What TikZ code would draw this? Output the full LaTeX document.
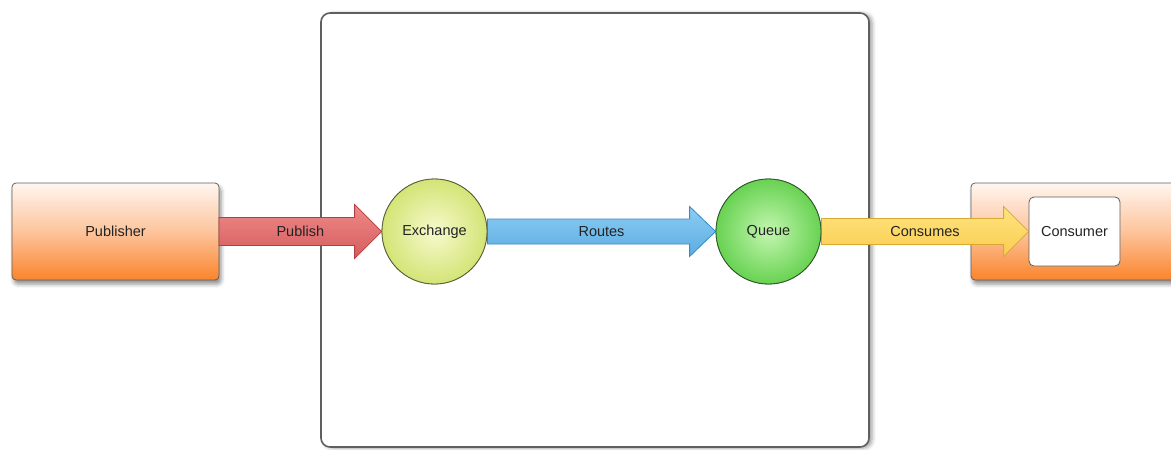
\documentclass[tikz,border=0pt]{standalone}
\usepackage{fontspec}
\setmainfont{Liberation Sans}
\usetikzlibrary{calc,shadows.blur}

\definecolor{txt}{RGB}{35,35,35}
\definecolor{frame}{RGB}{95,95,95}
\definecolor{orgtop}{RGB}{255,246,240}
\definecolor{orgmid}{RGB}{253,196,156}
\definecolor{orgbot}{RGB}{250,132,44}
\definecolor{exin}{RGB}{246,250,205}
\definecolor{exout}{RGB}{212,228,118}
\definecolor{exedge}{RGB}{85,95,55}
\definecolor{qin}{RGB}{196,246,176}
\definecolor{qout}{RGB}{104,210,82}
\definecolor{qedge}{RGB}{45,85,40}
\definecolor{redtop}{RGB}{238,138,138}
\definecolor{redbot}{RGB}{214,92,92}
\definecolor{rededge}{RGB}{178,62,62}
\definecolor{bluetop}{RGB}{140,205,243}
\definecolor{bluebot}{RGB}{92,172,226}
\definecolor{blueedge}{RGB}{58,138,198}
\definecolor{yeltop}{RGB}{255,228,128}
\definecolor{yelbot}{RGB}{250,204,78}
\definecolor{yeledge}{RGB}{214,170,52}

\tikzset{
  lbl/.style={text=txt,font=\fontsize{14.5}{16}\selectfont},
  softshadow/.style={blur shadow={shadow xshift=2pt,shadow yshift=-4pt,
      shadow blur radius=4pt,shadow opacity=45}},
  broker/.style={draw=frame,line width=1.6pt,fill=white,rounded corners=9pt,
      blur shadow={shadow xshift=3pt,shadow yshift=-1pt,shadow blur radius=4pt,shadow opacity=40}},
  appbox/.style={draw=frame,line width=0.8pt,rounded corners=4pt,
      top color=orgtop,bottom color=orgbot,middle color=orgmid,softshadow},
  clientbox/.style={draw=frame,line width=0.8pt,fill=white,rounded corners=5pt,lbl},
  exball/.style={circle,draw=exedge,line width=0.8pt,inner color=exin,outer color=exout,
      minimum size=105pt,lbl},
  qball/.style={circle,draw=qedge,line width=0.8pt,inner color=qin,outer color=qout,
      minimum size=105pt,lbl},
  redarrow/.style={draw=rededge,line width=0.8pt,top color=redtop,bottom color=redbot},
  bluearrow/.style={draw=blueedge,line width=0.8pt,top color=bluetop,bottom color=bluebot},
  yelarrow/.style={draw=yeledge,line width=0.8pt,top color=yeltop,bottom color=yelbot},
}

% fat arrow from #2 to #3: half shaft #4, half head #5, head length #6, label #7
\newcommand\fatarrow[7]{%
  \draw[#1] let \p1=(#2), \p2=(#3) in
    (\x1,\y1+#4) -- (\x2-#6,\y1+#4) -- (\x2-#6,\y1+#5) -- (\x2,\y2)
    -- (\x2-#6,\y1-#5) -- (\x2-#6,\y1-#4) -- (\x1,\y1-#4) -- cycle;
  \path (#2) -- (#3) node[midway,lbl] {#7};
}

\begin{document}
\begin{tikzpicture}[x=1pt,y=-1pt]
  \useasboundingbox (0,0) rectangle (1171,450);
  \clip (0,0) rectangle (1171,450);

  % broker frame
  \draw[broker] (321,13) rectangle (869,447);

  % publisher and consumer application boxes
  \draw[appbox] (12,183) rectangle (219,280);
  \node[lbl] (pub) at (115.5,231.5) {Publisher};
  \coordinate (pubR) at (219,231.5);

  \draw[appbox] (971,183) rectangle (1185,280);
  \node[clientbox,minimum width=91pt,minimum height=69pt] (cons) at (1074.5,231.5) {Consumer};

  % exchange and queue
  \node[exball] (ex) at (434.5,231.5) {Exchange};
  \node[qball] (q) at (768.5,231.5) {Queue};

  % flows
  \fatarrow{redarrow}{pubR}{ex.west}{14pt}{27pt}{27pt}{Publish}
  \fatarrow{bluearrow}{ex.east}{q.west}{12.5pt}{25pt}{26pt}{Routes}
  \fatarrow{yelarrow}{q.east}{cons.west}{13pt}{25pt}{25pt}{Consumes}

  % redraw balls over the arrow ends
  \node[exball] at (ex) {Exchange};
  \node[qball] at (q) {Queue};
\end{tikzpicture}
\end{document}
